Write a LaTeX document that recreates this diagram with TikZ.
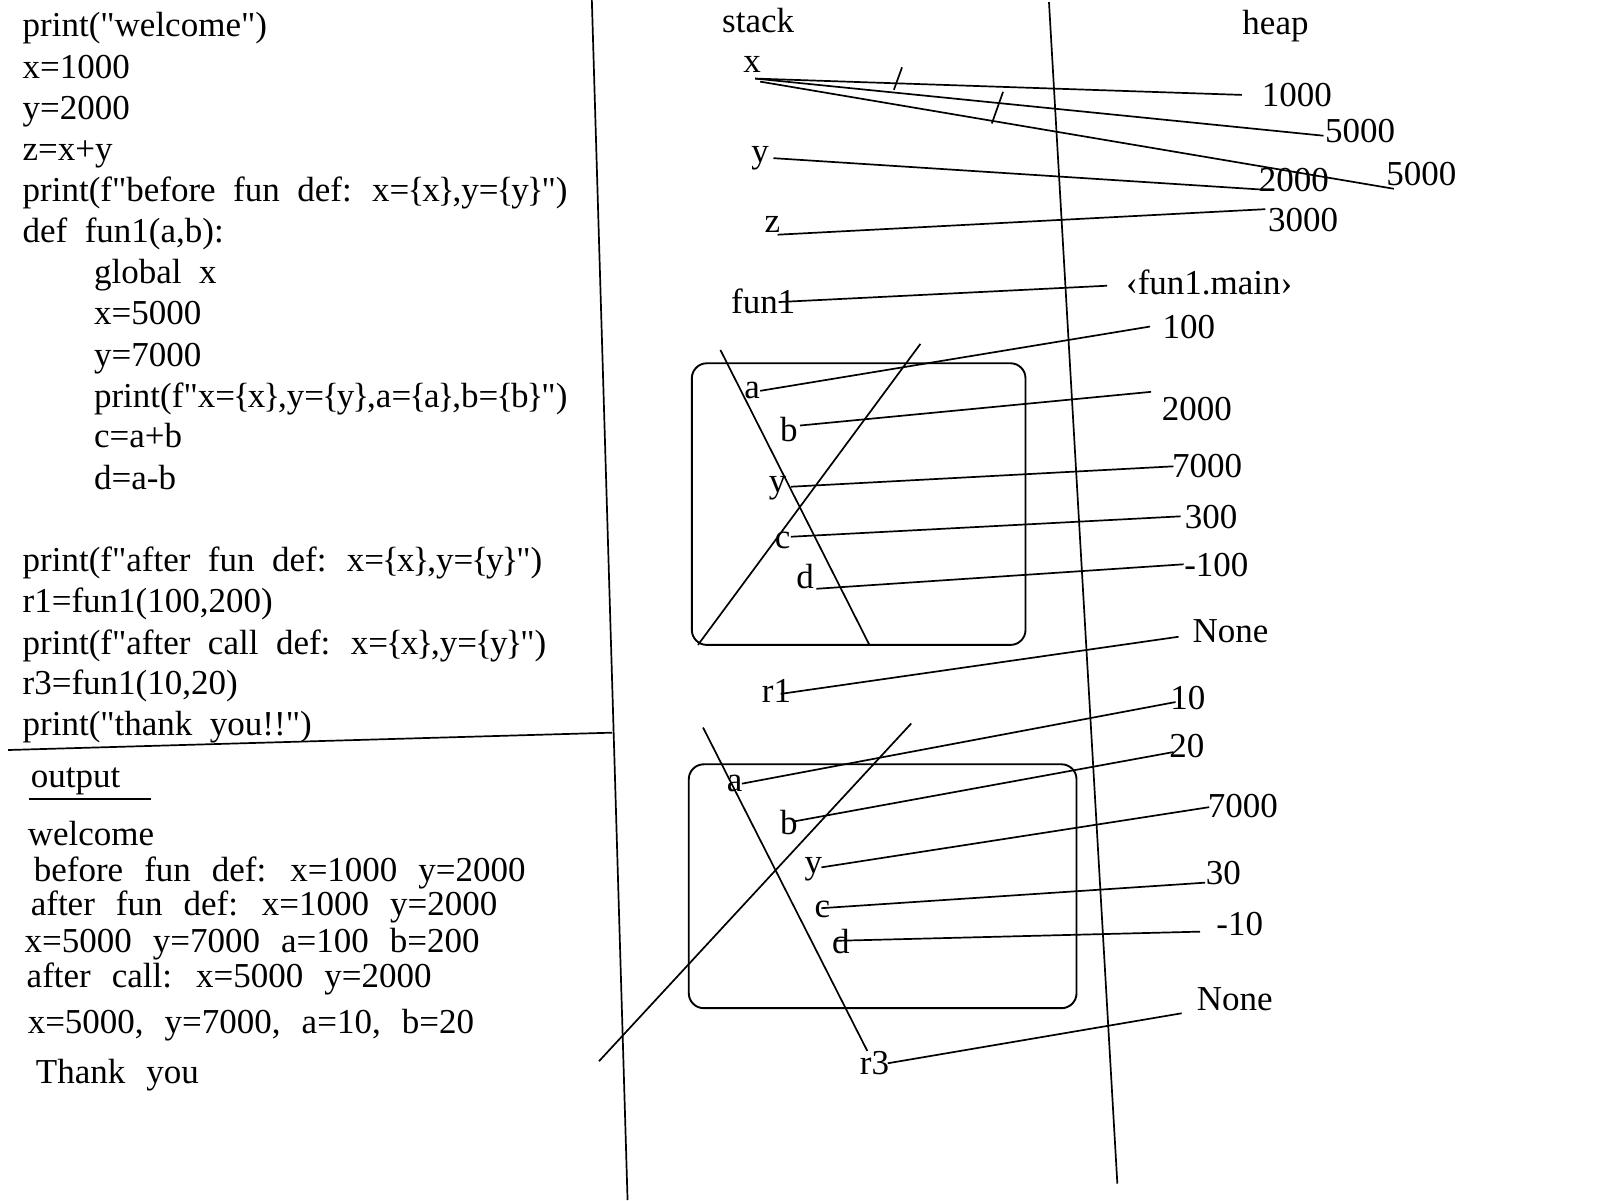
\documentclass[tikz,border=0pt]{standalone}
\usepackage{fontspec}
\setmainfont{Liberation Serif}
\newfontfamily\qfont{Liberation Serif}[Ligatures=ResetAll]
\newcommand\mycodefont{\fontsize{35}{40}\selectfont\spaceskip=0.5em\relax}
\newcommand\myoutfont{\fontsize{35}{40}\selectfont\spaceskip=0.6em\relax}
\newcommand\mylblfont{\fontsize{35}{40}\selectfont}
\newcommand\qq{{\qfont\char34}}
\newcommand\lb{\kern-2pt\{\kern-2pt}
\newcommand\rb{\kern-2pt\}\kern-2pt}
\begin{document}
\begin{tikzpicture}[x=1.0204pt,y=-1.0204pt,
  txt/.style={font=\mycodefont, inner sep=0pt, anchor=base west},
  otxt/.style={font=\myoutfont, inner sep=0pt, anchor=base west},
  lbl/.style={font=\mylblfont, inner sep=0pt},
  ln/.style={line width=1.7pt},
  frame/.style={line width=1.9pt, rounded corners=15pt}
]
\useasboundingbox (0,0) rectangle (1568,1176);

% ---------- code ----------
\node[txt] (k1) at (22,36) {print(\qq welcome\qq)};
\node[txt] (k2) at (22,76.5) {x=1000};
\node[txt] (k3) at (22,117) {y=2000};
\node[txt] (k4) at (22,157) {z=x+y};
\node[txt] (k5) at (22,197) {print(f\qq before fun def: x=\lb x\rb,y=\lb y\rb\qq)};
\node[txt] (k6) at (22,238) {def fun1(a,b):};
\node[txt] (k7) at (92,278) {global x};
\node[txt] (k8) at (92,318) {x=5000};
\node[txt] (k9) at (92,359) {y=7000};
\node[txt] (k10) at (92,399) {print(f\qq x=\lb x\rb,y=\lb y\rb,a=\lb a\rb,b=\lb b\rb\qq)};
\node[txt] (k11) at (92,439) {c=a+b};
\node[txt] (k12) at (92,480) {d=a-b};
\node[txt] (k13) at (22,560) {print(f\qq after fun def: x=\lb x\rb,y=\lb y\rb\qq)};
\node[txt] (k14) at (22,600) {r1=fun1(100,200)};
\node[txt] (k15) at (22,641) {print(f\qq after call def: x=\lb x\rb,y=\lb y\rb\qq)};
\node[txt] (k16) at (22,681) {r3=fun1(10,20)};
\node[txt] (k17) at (22,721) {print(\qq thank you!!\qq)};

% ---------- output ----------
\node[otxt] (out) at (30,772) {output};
\node[otxt] (o1) at (27,829) {welcome};
\node[otxt] (o2) at (33,864) {before fun def: x=1000 y=2000};
\node[otxt] (o3) at (30,897) {after fun def: x=1000 y=2000};
\node[otxt] (o4) at (24,933) {x=5000 y=7000 a=100 b=200};
\node[otxt] (o5) at (26,968) {after call: x=5000 y=2000};
\node[otxt] (o6) at (27,1013) {x=5000, y=7000, a=10, b=20};
\node[otxt] (o7) at (35,1062) {Thank you};

% ---------- dividers ----------
\coordinate (v1t) at (580,0); \coordinate (v1b) at (615,1176);
\coordinate (v2t) at (1028,2); \coordinate (v2b) at (1095,1160);
\coordinate (hl) at (8,735); \coordinate (hr) at (600,718);
\coordinate (ul) at (28,783); \coordinate (ur) at (148,783);
\draw[ln] (v1t) -- (v1b);
\draw[ln] (v2t) -- (v2b);
\draw[ln] (hl) -- (hr);
\draw[ln] (ul) -- (ur);

% ---------- headers ----------
\node[lbl] (stack) at (743,20) {stack};
\node[lbl] (heap) at (1250,26) {heap};

% ---------- stack names ----------
\node[lbl] (sx) at (737,63) {x};
\node[lbl] (sy) at (745,155) {y};
\node[lbl] (sz) at (757,220) {z};
\node[lbl] (sfun) at (748,295) {fun1};
\node[lbl] (ar1) at (737,383) {a};
\node[lbl] (br1) at (773,421) {b};
\node[lbl] (yr1) at (762,478) {y};
\node[lbl] (cr1) at (767,530) {c};
\node[lbl] (dr1) at (789,565) {d};
\node[lbl] (sr1) at (761,677) {r1};
\node[lbl] (ar2) at (720,768) {a};
\node[lbl] (br2) at (773,806) {b};
\node[lbl] (yr2) at (797,852) {y};
\node[lbl] (cr2) at (806,891) {c};
\node[lbl] (dr2) at (824,923) {d};
\node[lbl] (sr3) at (857,1042) {r3};

% ---------- heap values ----------
\node[lbl] (h1000) at (1271,93) {1000};
\node[lbl] (h5000a) at (1333,128) {5000};
\node[lbl] (h2000) at (1268,176) {2000};
\node[lbl] (h5000b) at (1393,171) {5000};
\node[lbl] (h3000) at (1277,216) {3000};
\node[lbl] (hfun) at (1185,277) {‹fun1.main›};
\node[lbl] (h100) at (1165,320) {100};
\node[lbl] (h2000b) at (1173,401) {2000};
\node[lbl] (h7000) at (1183,457) {7000};
\node[lbl] (h300) at (1187,507) {300};
\node[lbl] (hm100) at (1192,554) {-100};
\node[lbl] (hnone1) at (1206,619) {None};
\node[lbl] (h10) at (1164,684) {10};
\node[lbl] (h20) at (1163,731) {20};
\node[lbl] (h7000b) at (1218,790) {7000};
\node[lbl] (h30) at (1199,856) {30};
\node[lbl] (hm10) at (1215,906) {-10};
\node[lbl] (hnone2) at (1210,979) {None};

% ---------- frames ----------
\draw[frame] (678,356) rectangle (1005,632);
\draw[frame] (675,749) rectangle (1055,988);
\coordinate (xa1) at (706,343); \coordinate (xa2) at (852,632);
\coordinate (xb1) at (902,337); \coordinate (xb2) at (684,632);
\draw[ln] (xa1) -- (xa2);
\draw[ln] (xb1) -- (xb2);
\coordinate (xc1) at (689,713); \coordinate (xc2) at (850,1030);
\coordinate (xd1) at (893,709); \coordinate (xd2) at (587,1040);
\draw[ln] (xc1) -- (xc2);
\draw[ln] (xd1) -- (xd2);

% ---------- connectors ----------
\coordinate (xs) at (740,77);
\coordinate (xs2) at (745,80);
\coordinate (e1000) at (1217,93);
\coordinate (e5000a) at (1297,133);
\coordinate (e5000b) at (1366,185);
\draw[ln] (xs) -- (e1000);
\draw[ln] (xs) -- (e5000a);
\draw[ln] (xs2) -- (e5000b);
\coordinate (t1a) at (876,88); \coordinate (t1b) at (884,66);
\coordinate (t2a) at (972,121); \coordinate (t2b) at (983,90);
\draw[ln] (t1a) -- (t1b);
\draw[ln] (t2a) -- (t2b);

\coordinate (ys) at (758,155); \coordinate (ye) at (1240,186);
\draw[ln] (ys) -- (ye);
\coordinate (zs) at (762,230); \coordinate (ze) at (1240,205);
\draw[ln] (zs) -- (ze);
\coordinate (fs) at (763,296); \coordinate (fe) at (1085,280);
\draw[ln] (fs) -- (fe);

\coordinate (a1s) at (745,383); \coordinate (a1e) at (1127,320);
\draw[ln] (a1s) -- (a1e);
\coordinate (b1s) at (784,417); \coordinate (b1e) at (1128,384);
\draw[ln] (b1s) -- (b1e);
\coordinate (y1s) at (775,477); \coordinate (y1e) at (1150,457);
\draw[ln] (y1s) -- (y1e);
\coordinate (c1s) at (775,526); \coordinate (c1e) at (1157,506);
\draw[ln] (c1s) -- (c1e);
\coordinate (d1s) at (800,577); \coordinate (d1e) at (1160,553);
\draw[ln] (d1s) -- (d1e);
\coordinate (r1s) at (765,680); \coordinate (r1e) at (1155,624);
\draw[ln] (r1s) -- (r1e);

\coordinate (a2s) at (727,768); \coordinate (a2e) at (1152,688);
\draw[ln] (a2s) -- (a2e);
\coordinate (b2s) at (778,805); \coordinate (b2e) at (1150,737);
\draw[ln] (b2s) -- (b2e);
\coordinate (y2s) at (805,850); \coordinate (y2e) at (1185,791);
\draw[ln] (y2s) -- (y2e);
\coordinate (c2s) at (805,890); \coordinate (c2e) at (1181,865);
\draw[ln] (c2s) -- (c2e);
\coordinate (d2s) at (818,922); \coordinate (d2e) at (1176,913);
\draw[ln] (d2s) -- (d2e);
\coordinate (r3s) at (870,1042); \coordinate (r3e) at (1158,993);
\draw[ln] (r3s) -- (r3e);
\end{tikzpicture}
\end{document}
